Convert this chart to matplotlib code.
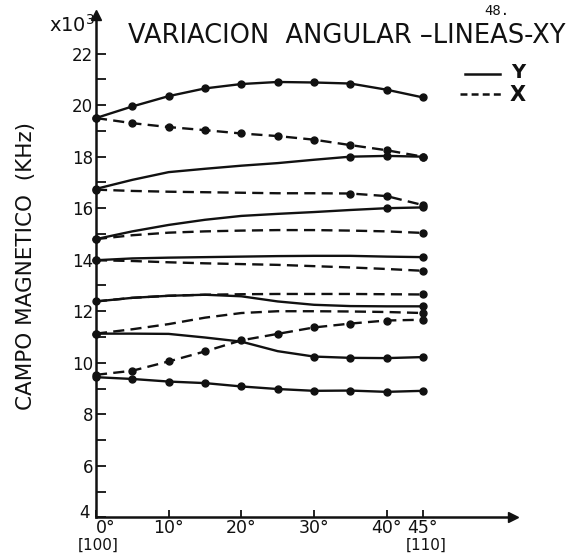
import matplotlib
matplotlib.use("Agg")
import matplotlib.pyplot as plt

plt.rcParams["font.family"] = ["DejaVu Sans"]
plt.rcParams["lines.scale_dashes"] = False

# angle in degrees from [100] towards [110]
angles = [0, 5, 10, 15, 20, 25, 30, 35, 40, 45]

# resonance field (x10^3) along Y lines (solid)
y_line_1 = [19.50, 19.95, 20.35, 20.65, 20.82, 20.90, 20.88, 20.84, 20.60, 20.30]
y_line_2 = [16.75, 17.10, 17.40, 17.53, 17.65, 17.75, 17.88, 18.00, 18.03, 18.00]
y_line_3 = [14.80, 15.10, 15.35, 15.55, 15.70, 15.78, 15.85, 15.93, 16.00, 16.03]
y_line_4 = [13.98, 14.05, 14.08, 14.10, 14.12, 14.14, 14.15, 14.15, 14.12, 14.10]
y_line_5 = [12.38, 12.52, 12.60, 12.64, 12.58, 12.38, 12.25, 12.20, 12.19, 12.19]
y_line_6 = [11.13, 11.13, 11.12, 10.98, 10.82, 10.45, 10.24, 10.19, 10.18, 10.22]
y_line_7 = [9.44, 9.37, 9.27, 9.21, 9.08, 8.98, 8.91, 8.92, 8.87, 8.91]

# resonance field (x10^3) along X lines (dashed)
x_line_1 = [19.50, 19.30, 19.15, 19.03, 18.90, 18.80, 18.66, 18.45, 18.25, 18.00]
x_line_2 = [16.72, 16.67, 16.64, 16.62, 16.60, 16.58, 16.58, 16.57, 16.47, 16.12]
x_line_3 = [14.80, 14.95, 15.05, 15.10, 15.13, 15.15, 15.15, 15.13, 15.10, 15.04]
x_line_4 = [13.98, 13.95, 13.90, 13.86, 13.83, 13.80, 13.75, 13.70, 13.64, 13.57]
x_line_5 = [12.38, 12.52, 12.60, 12.64, 12.66, 12.67, 12.67, 12.67, 12.66, 12.65]
x_line_6 = [11.13, 11.30, 11.50, 11.75, 11.93, 12.00, 12.00, 11.99, 11.97, 11.93]
x_line_7 = [9.53, 9.69, 10.05, 10.44, 10.87, 11.12, 11.37, 11.52, 11.64, 11.67]

y_lines = [y_line_1, y_line_2, y_line_3, y_line_4, y_line_5, y_line_6, y_line_7]
x_lines = [x_line_1, x_line_2, x_line_3, x_line_4, x_line_5, x_line_6, x_line_7]

# which measured points carry a dot
all_pts = list(range(10))
y_marks = [all_pts, [0, 7, 8, 9], [0, 8, 9], [0, 9], [0, 9], [0, 6, 7, 8, 9], all_pts]
x_marks = [all_pts, [0, 7, 8, 9], [0, 9], [0, 9], [9], [0, 9], all_pts]

y_ticks = list(range(4, 23))
y_tick_labels = [str(v) if (v % 2 == 0 and v > 4) else "" for v in y_ticks]
x_ticks = [0, 10, 20, 30, 40, 45]
x_tick_labels = ["0°", "10°", "20°", "30°", "40°", "45°"]

W, H = 570, 553
fig = plt.figure(figsize=(W / 100, H / 100), dpi=100)
x0, x1 = 96, 513
y0, y1 = 517.3, 15
ax = fig.add_axes([x0 / W, 1 - y0 / H, (x1 - x0) / W, (y0 - y1) / H])
ax.set_xlim(0, 57.4)
ax.set_ylim(4, 23.5)

ink = "#111111"
for vals, mk in zip(y_lines, y_marks):
    ax.plot(angles, vals, color=ink, lw=1.7, marker="o", ms=5,
            markevery=mk, solid_capstyle="round", clip_on=False, zorder=3)
for vals, mk in zip(x_lines, x_marks):
    ax.plot(angles, vals, color=ink, lw=1.7, marker="o", ms=5,
            markevery=mk, dashes=(8, 4.5), clip_on=False, zorder=3)

# axes drawn as arrows
for s in ["top", "right"]:
    ax.spines[s].set_visible(False)
for s in ["left", "bottom"]:
    ax.spines[s].set_linewidth(1.8)
    ax.spines[s].set_color(ink)
ax.plot([57.4], [4], marker=">", color=ink, ms=7, clip_on=False)
ax.plot([0], [23.5], marker="^", color=ink, ms=7, clip_on=False)

ax.set_yticks(y_ticks)
ax.set_yticklabels(y_tick_labels, fontsize=12)
ax.set_xticks(x_ticks)
ax.set_xticklabels(x_tick_labels, fontsize=12.5)
ax.tick_params(axis="y", direction="in", length=7, width=1.3, pad=2, colors=ink)
ax.tick_params(axis="x", direction="in", length=5, width=1.3, pad=1, colors=ink)
xl = ax.get_xticklabels()
xl[0].set_ha("left")
xl[0].set_x(-0.1)

ax.set_ylabel("CAMPO MAGNETICO  (KHz)", fontsize=15.5, labelpad=26, color=ink)

# origin value and crystal directions
fig.text(85 / W, 1 - 513 / H, "4", fontsize=12, ha="center", va="center", color=ink)
fig.text(98 / W, 1 - 545 / H, "[100]", fontsize=11, ha="center", va="center", color=ink)
fig.text(426 / W, 1 - 545 / H, "[110]", fontsize=11, ha="center", va="center", color=ink)

fig.text(95 / W, 1 - 25 / H, "x10$^3$", fontsize=14, ha="right", va="center", color=ink)
fig.text(128 / W, 1 - 36 / H, "VARIACION  ANGULAR –LINEAS-XY", fontsize=18.5,
         ha="left", va="center", color=ink)
fig.text(484 / W, 1 - 11 / H, "48.", fontsize=10, family="DejaVu Sans Mono",
         ha="left", va="center", color=ink)

# legend
fig.lines.append(plt.Line2D([465 / W, 500 / W], [1 - 74 / H, 1 - 74 / H],
                            transform=fig.transFigure, color=ink, lw=1.8))
fig.lines.append(plt.Line2D([460 / W, 502 / W], [1 - 94 / H, 1 - 94 / H],
                            transform=fig.transFigure, color=ink, lw=1.8,
                            dashes=(5, 3)))
fig.text(511 / W, 1 - 73 / H, "Y", fontsize=14, fontweight="bold", ha="left",
         va="center", color=ink)
fig.text(510 / W, 1 - 95 / H, "X", fontsize=15, fontweight="bold", ha="left",
         va="center", color=ink)

fig.savefig("out.png", dpi=100, facecolor="white")
